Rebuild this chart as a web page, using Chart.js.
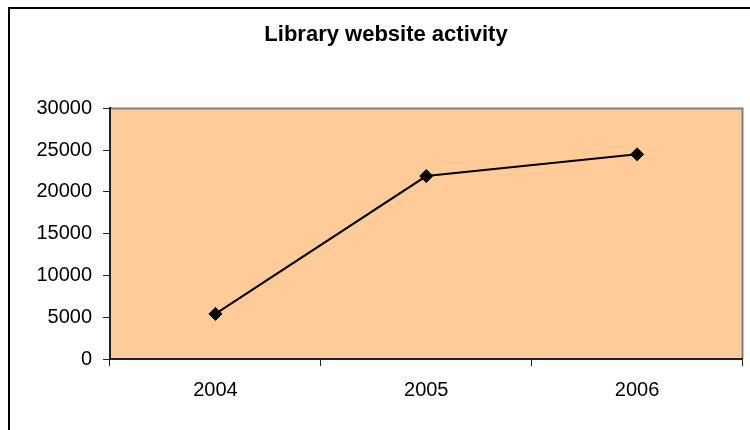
<!DOCTYPE html>
<html>
<head>
<meta charset="utf-8">
<script src="https://cdn.jsdelivr.net/npm/chart.js@4"></script>
<style>
    html, body { margin: 0; padding: 0; width: 750px; height: 430px; overflow: hidden; background: #fff; }
    #frame { position: absolute; left: 8px; top: 7px; width: 1000px; height: 1000px; border: 2px solid #000; }
    #lineChart { position: absolute; left: 0; top: 0; }
</style>
</head>
<body>
<div id="frame"></div>
<canvas id="lineChart" width="750" height="430"></canvas>
<script>
const years = ['2004', '2005', '2006'];
const activity = [5400, 21900, 24500];
const yTicks = [0, 5000, 10000, 15000, 20000, 25000, 30000];

// peach plot background with grey top/right edge
const plotBg = {
    id: 'plotBg',
    beforeDraw(chart) {
        const { ctx, chartArea: a } = chart;
        ctx.save();
        ctx.fillStyle = '#FFCC99';
        ctx.fillRect(a.left, a.top, a.right - a.left, a.bottom - a.top);
        ctx.strokeStyle = '#808080';
        ctx.lineWidth = 2;
        ctx.beginPath();
        ctx.moveTo(a.left, a.top);
        ctx.lineTo(a.right, a.top);
        ctx.lineTo(a.right, a.bottom);
        ctx.stroke();
        ctx.restore();
    }
};

const ctx = document.getElementById('lineChart').getContext('2d');

const lineChart = new Chart(ctx, {
    type: 'line',
    data: {
        labels: years,
        datasets: [{
            label: 'Activity',
            data: activity,
            borderColor: '#000',
            backgroundColor: '#000',
            borderWidth: 2,
            tension: 0,
            fill: false,
            pointStyle: 'rectRot',
            pointRadius: 6.5,
            pointBackgroundColor: '#000',
            pointBorderColor: '#000',
            pointBorderWidth: 1
        }]
    },
    options: {
        responsive: false,
        animation: false,
        devicePixelRatio: 1,
        layout: { padding: { left: 28, right: 6, top: 0, bottom: 0 } },
        plugins: {
            legend: { display: false },
            tooltip: { enabled: false },
            title: {
                display: true,
                text: 'Library website activity',
                color: '#000',
                font: { family: '"Liberation Sans", Arial, sans-serif', size: 22, weight: 'bold' },
                padding: { top: 22, bottom: 60 }
            }
        },
        scales: {
            x: {
                offset: true,
                afterFit: s => { s.height = 71; },
                grid: {
                    offset: true,
                    drawOnChartArea: false,
                    drawTicks: true,
                    tickLength: 7,
                    color: '#222'
                },
                border: { color: '#222', width: 2 },
                ticks: {
                    color: '#000',
                    padding: 12,
                    font: { family: '"Liberation Sans", Arial, sans-serif', size: 20 }
                }
            },
            y: {
                min: 0,
                max: 30000,
                afterFit: s => { s.width = 82; },
                afterBuildTicks: s => { s.ticks = yTicks.map(v => ({ value: v })); },
                grid: {
                    drawOnChartArea: false,
                    drawTicks: true,
                    tickLength: 7,
                    color: '#222'
                },
                border: { color: '#222', width: 2 },
                ticks: {
                    color: '#000',
                    padding: 11,
                    callback: v => String(v),
                    font: { family: '"Liberation Sans", Arial, sans-serif', size: 20 }
                }
            }
        }
    },
    plugins: [plotBg]
});
</script>
</body>
</html>
